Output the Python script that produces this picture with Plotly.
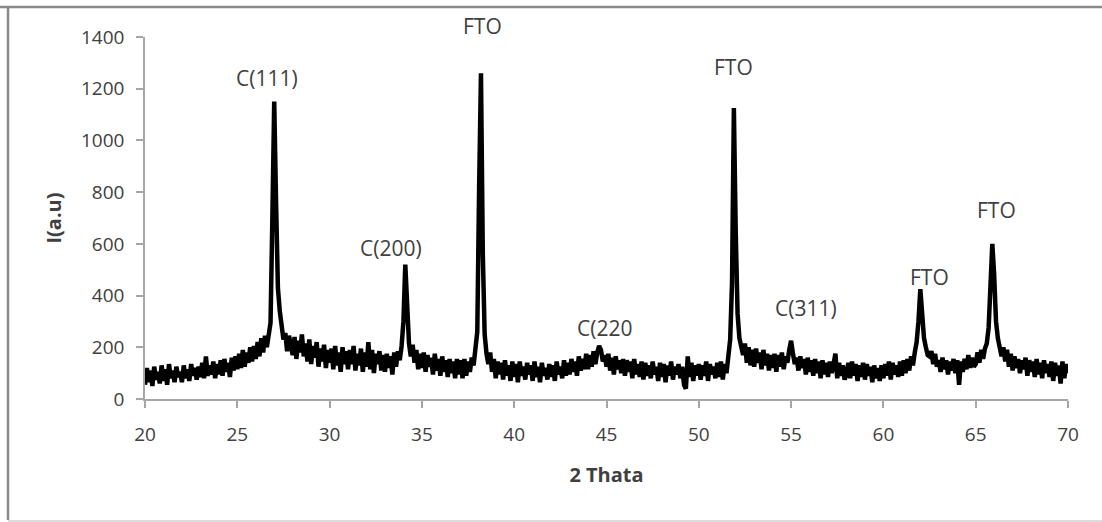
import numpy as np
import plotly.graph_objects as go

# Intensity values, one row per degree (20.0 .. 69.9 in 0.1 steps)
y_rows = [
    [55, 120, 65, 110, 50, 125, 75, 105, 60, 130],        # 20
    [70, 115, 55, 135, 80, 110, 65, 125, 85, 105],        # 21
    [65, 130, 80, 115, 70, 135, 90, 120, 75, 125],        # 22
    [85, 140, 80, 165, 90, 130, 95, 145, 80, 135],        # 23
    [95, 150, 90, 155, 105, 140, 85, 160, 110, 165],      # 24
    [115, 175, 120, 190, 125, 180, 140, 200, 145, 205],   # 25
    [155, 220, 165, 235, 180, 245, 200, 265, 295, 700],   # 26
    [1150, 760, 430, 340, 275, 230, 255, 185, 245, 195],  # 27
    [170, 240, 155, 225, 180, 250, 165, 215, 145, 230],   # 28
    [135, 205, 160, 220, 125, 195, 145, 210, 120, 190],   # 29
    [140, 195, 115, 205, 130, 180, 105, 200, 135, 185],   # 30
    [115, 190, 135, 205, 110, 175, 130, 195, 105, 180],   # 31
    [125, 220, 115, 190, 100, 175, 135, 185, 110, 170],   # 32
    [105, 175, 120, 165, 95, 180, 125, 185, 150, 205],    # 33
    [300, 520, 330, 215, 165, 210, 140, 190, 115, 175],   # 34
    [120, 180, 105, 170, 125, 160, 95, 175, 110, 155],    # 35
    [90, 165, 105, 150, 85, 155, 100, 145, 80, 155],      # 36
    [95, 150, 80, 155, 90, 145, 105, 160, 130, 215],      # 37
    [260, 820, 1260, 560, 250, 175, 135, 180, 105, 155],  # 38
    [80, 145, 95, 140, 75, 150, 90, 130, 70, 145],        # 39
    [85, 135, 65, 145, 90, 125, 75, 140, 95, 130],        # 40
    [70, 145, 85, 125, 65, 140, 90, 120, 75, 135],        # 41
    [85, 130, 70, 145, 95, 125, 80, 150, 90, 140],        # 42
    [95, 155, 105, 145, 90, 165, 110, 155, 115, 175],     # 43
    [115, 170, 125, 185, 135, 180, 205, 190, 145, 170],   # 44
    [125, 175, 110, 160, 95, 165, 115, 150, 100, 155],    # 45
    [90, 150, 105, 145, 80, 155, 95, 135, 85, 145],       # 46
    [75, 140, 90, 130, 80, 145, 95, 125, 70, 140],        # 47
    [85, 135, 65, 130, 90, 145, 75, 125, 95, 135],        # 48
    [80, 125, 55, 40, 165, 85, 140, 70, 130, 90],         # 49
    [135, 75, 130, 90, 145, 70, 135, 95, 125, 80],        # 50
    [140, 85, 145, 75, 135, 100, 160, 230, 450, 1125],    # 51
    [650, 330, 235, 200, 170, 215, 140, 200, 130, 190],   # 52
    [125, 195, 140, 180, 115, 190, 130, 175, 110, 170],   # 53
    [120, 175, 105, 170, 125, 180, 115, 165, 140, 190],   # 54
    [225, 175, 135, 160, 110, 165, 120, 155, 95, 160],    # 55
    [105, 150, 90, 155, 100, 145, 80, 150, 95, 140],      # 56
    [85, 145, 100, 135, 175, 80, 140, 90, 130, 75],       # 57
    [95, 140, 80, 145, 90, 135, 70, 130, 85, 140],        # 58
    [75, 135, 90, 125, 65, 130, 80, 120, 70, 130],        # 59
    [80, 135, 90, 145, 75, 140, 95, 130, 85, 145],        # 60
    [90, 150, 100, 155, 110, 165, 130, 180, 220, 300],    # 61
    [425, 330, 235, 200, 170, 165, 185, 135, 175, 125],   # 62
    [150, 105, 160, 115, 150, 95, 145, 110, 155, 100],    # 63
    [150, 55, 145, 105, 155, 115, 170, 120, 160, 125],    # 64
    [135, 180, 140, 190, 155, 195, 215, 275, 420, 600],   # 65
    [480, 300, 235, 205, 165, 200, 145, 190, 125, 175],   # 66
    [110, 165, 120, 155, 100, 150, 115, 160, 90, 150],    # 67
    [105, 145, 85, 155, 95, 140, 80, 150, 100, 135],      # 68
    [85, 145, 70, 140, 90, 130, 60, 145, 80, 135],        # 69
    [100],                                                # 70
]
x_start = 20.0
x_step = 0.1

labels = ["C(111)", "C(200)", "FTO", "C(220", "FTO", "C(311)", "FTO", "FTO"]
label_x = [26.6, 33.3, 38.3, 44.9, 51.9, 55.8, 62.5, 66.1]
label_y = [1241, 584, 1442, 275, 1284, 352, 472, 731]

x_ticks = [20, 25, 30, 35, 40, 45, 50, 55, 60, 65, 70]
y_ticks = [0, 200, 400, 600, 800, 1000, 1200, 1400]
y_max = 1400

y_vals = [v for row in y_rows for v in row]
x_vals = np.round(x_start + x_step * np.arange(len(y_vals)), 1)

FONT = "Open Sans, Liberation Sans, sans-serif"
GRAY = "#a6a6a6"
TXT = "#404040"

fig = go.Figure()
fig.add_trace(go.Scatter(x=x_vals, y=y_vals, mode="lines",
                         line=dict(color="black", width=4.5), showlegend=False,
                         hoverinfo="skip"))

for t, xx, yy in zip(labels, label_x, label_y):
    fig.add_annotation(x=xx, y=yy / y_max, yref="paper", text=t, showarrow=False,
                       xanchor="center", yanchor="middle",
                       font=dict(family=FONT, size=21, color=TXT))

# outer frame lines
fig.add_shape(type="line", xref="paper", yref="paper", x0=-0.16, x1=1.04, y0=1.083, y1=1.083,
              line=dict(color="#8a8a8a", width=2.5))
fig.add_shape(type="line", xref="paper", yref="paper", x0=-0.1484, x1=-0.1484, y0=-0.334, y1=1.083,
              line=dict(color="#8a8a8a", width=2.5))
fig.add_shape(type="line", xref="paper", yref="paper", x0=-0.1484, x1=1.04, y0=-0.337, y1=-0.337,
              line=dict(color="#d0d0d0", width=1.5))

fig.update_layout(
    width=1102, height=522,
    margin=dict(l=145, r=34, t=37, b=123),
    paper_bgcolor="white", plot_bgcolor="white",
    font=dict(family=FONT, color=TXT, size=19),
    xaxis=dict(range=[20, 70], tickvals=x_ticks, showgrid=False, zeroline=False,
               showline=True, linecolor=GRAY, linewidth=1.5,
               ticks="outside", ticklen=7, tickcolor=GRAY, tickwidth=1.5,
               ticklabelstandoff=10,
               tickfont=dict(size=19, color=TXT),
               title=dict(text="<b>2 Thata</b>", font=dict(size=20, color=TXT), standoff=22)),
    yaxis=dict(range=[0, 1400], tickvals=y_ticks, showgrid=False, zeroline=False,
               showline=True, linecolor=GRAY, linewidth=1.5,
               ticks="outside", ticklen=7, tickcolor=GRAY, tickwidth=1.5,
               ticklabelstandoff=8,
               tickfont=dict(size=19, color=TXT),
               title=dict(text="<b>I(a.u)</b>", font=dict(size=20, color=TXT), standoff=14)),
)

fig.write_html("out.html")
